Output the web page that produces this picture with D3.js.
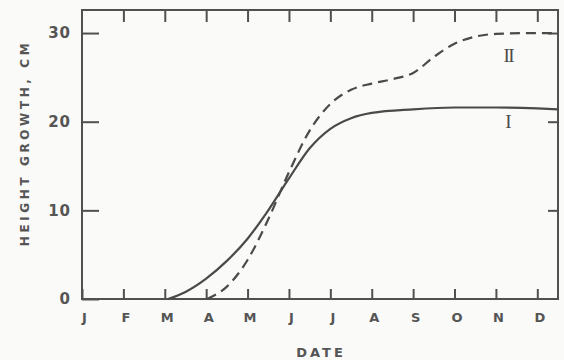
<!DOCTYPE html>
<html>
<head>
<meta charset="utf-8">
<script src="https://cdn.jsdelivr.net/npm/d3@7"></script>
<style>
  body { margin: 0; background: #fafaf8; }
  svg { display: block; }
  .axis text { font-family: "DejaVu Sans", sans-serif; font-weight: bold; fill: #555; }
  .axis path, .axis line { stroke: #505050; stroke-width: 2; }
</style>
</head>
<body>
<div id="chart"></div>
<script>
// month axis (0 = 1 Jan) and tick labels
const monthTicks = [0, 1, 2, 3, 4, 5, 6, 7, 8, 9, 10, 11];
const monthLabels = ['J', 'F', 'M', 'A', 'M', 'J', 'J', 'A', 'S', 'O', 'N', 'D'];
const heightTicks = [0, 10, 20, 30];

// curve I (solid)
const monthsI = [2.08, 2.5, 3.0, 3.5, 4.0, 4.5, 5.0, 5.5, 6.0, 6.5, 7.0, 8.0, 9.0, 10.0, 11.0, 11.5];
const growthI = [0, 0.8, 2.3, 4.3, 6.8, 10.0, 13.6, 17.0, 19.2, 20.4, 21.0, 21.4, 21.6, 21.6, 21.5, 21.4];

// curve II (dashed)
const monthsII = [3.02, 3.5, 4.0, 4.5, 5.0, 5.5, 6.0, 6.5, 7.0, 7.5, 8.0, 8.5, 9.0, 9.5, 10.0, 11.0, 11.5];
const growthII = [0, 1.4, 4.4, 9.0, 14.3, 19.0, 22.0, 23.6, 24.3, 24.8, 25.5, 27.3, 28.8, 29.6, 29.9, 30.0, 30.0];

const W = 564, H = 360;
const margin = { top: 10, right: 6, bottom: 61, left: 82 };
const width = W - margin.left - margin.right;
const height = H - margin.top - margin.bottom;

const svg = d3.select('#chart').append('svg')
    .attr('width', W)
    .attr('height', H);

const g = svg.append('g')
    .attr('transform', `translate(${margin.left}, ${margin.top})`);

const xScale = d3.scaleLinear().domain([0, 11.5]).range([0, width]);
const yScale = d3.scaleLinear().domain([0, 32.6]).range([height, 0]);

// frame
g.append('rect')
    .attr('x', 0).attr('y', 0)
    .attr('width', width).attr('height', height)
    .attr('fill', 'none')
    .attr('stroke', '#505050')
    .attr('stroke-width', 2);

// bottom axis, ticks pointing in
g.append('g')
    .attr('class', 'axis axis-x')
    .attr('transform', `translate(0, ${height})`)
    .call(d3.axisBottom(xScale).tickValues(monthTicks)
        .tickFormat((d, i) => monthLabels[i])
        .tickSizeInner(-10).tickSizeOuter(0).tickPadding(14))
    .call(a => a.select('.domain').remove())
    .call(a => a.selectAll('text').style('font-size', '13px').attr('dx', 2));

// top axis, ticks pointing in
g.append('g')
    .attr('class', 'axis axis-top')
    .call(d3.axisTop(xScale).tickValues(monthTicks.slice(1))
        .tickFormat('').tickSizeInner(-12).tickSizeOuter(0))
    .call(a => a.select('.domain').remove());

// left axis
g.append('g')
    .attr('class', 'axis axis-y')
    .call(d3.axisLeft(yScale).tickValues(heightTicks)
        .tickSizeInner(-17).tickSizeOuter(0).tickPadding(11))
    .call(a => a.select('.domain').remove())
    .call(a => a.selectAll('text').style('font-size', '15px').style('letter-spacing', '1px'));

// right axis
g.append('g')
    .attr('class', 'axis axis-right')
    .attr('transform', `translate(${width}, 0)`)
    .call(d3.axisRight(yScale).tickValues(heightTicks.slice(1))
        .tickFormat('').tickSizeInner(-10).tickSizeOuter(0))
    .call(a => a.select('.domain').remove());

// curves
const line = d3.line()
    .x(d => xScale(d[0]))
    .y(d => yScale(d[1]))
    .curve(d3.curveMonotoneX);

g.append('path')
    .datum(d3.zip(monthsI, growthI))
    .attr('d', line)
    .attr('fill', 'none')
    .attr('stroke', '#4a4a4a')
    .attr('stroke-width', 2.2);

g.append('path')
    .datum(d3.zip(monthsII, growthII))
    .attr('d', line)
    .attr('fill', 'none')
    .attr('stroke', '#4a4a4a')
    .attr('stroke-width', 2.2)
    .attr('stroke-dasharray', '10,6');

// curve labels
g.append('text')
    .attr('x', xScale(10.3)).attr('y', yScale(19.3))
    .attr('text-anchor', 'middle')
    .style('font-family', '"Liberation Serif", serif')
    .style('font-size', '19px')
    .style('fill', '#4a4a4a')
    .text('I');

g.append('text')
    .attr('x', xScale(10.3)).attr('y', yScale(26.7))
    .attr('text-anchor', 'middle')
    .style('font-family', '"Liberation Serif", serif')
    .style('font-size', '19px')
    .style('letter-spacing', '-1.5px')
    .style('fill', '#4a4a4a')
    .text('II');

// axis titles
svg.append('text')
    .attr('x', 321).attr('y', 357)
    .attr('text-anchor', 'middle')
    .style('font-family', '"DejaVu Sans", sans-serif')
    .style('font-weight', 'bold')
    .style('font-size', '13px')
    .style('letter-spacing', '3px')
    .style('fill', '#555')
    .text('DATE');

svg.append('text')
    .attr('transform', 'translate(29, 143) rotate(-90)')
    .attr('text-anchor', 'middle')
    .style('font-family', '"DejaVu Sans", sans-serif')
    .style('font-weight', 'bold')
    .style('font-size', '12px')
    .style('letter-spacing', '3.6px')
    .style('fill', '#555')
    .text('HEIGHT GROWTH, CM');
</script>
</body>
</html>
